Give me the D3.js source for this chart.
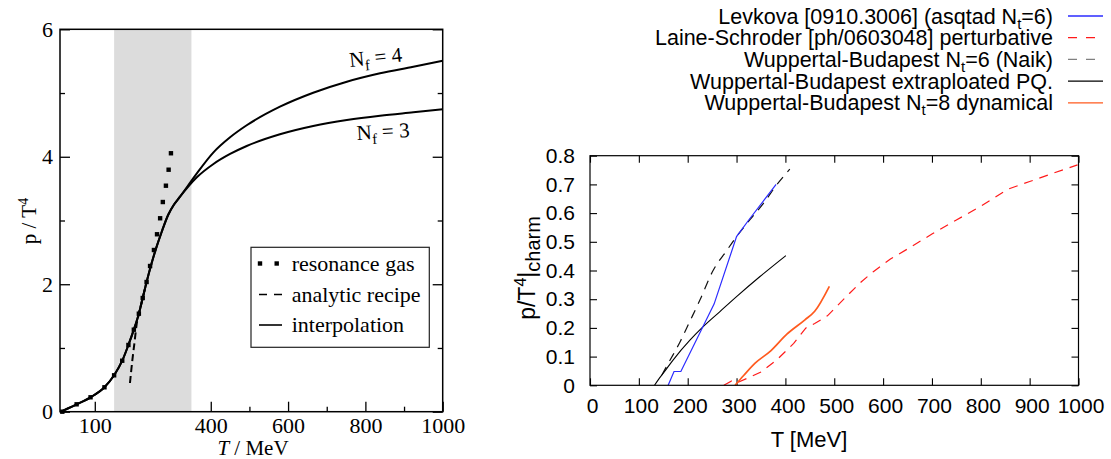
<!DOCTYPE html>
<html><head><meta charset="utf-8">
<script src="https://cdn.jsdelivr.net/npm/d3@7"></script>
<style>body{margin:0;background:#fff} svg{display:block}</style>
</head><body><svg id="c" width="1111" height="459"></svg>
<script>
// ===== Left panel data =====
const shadeBand = [150, 350];
const leftXTicksMajor = [100, 400, 600, 800, 1000];
const leftXTicksMinor = [500, 700, 900];
const leftYTicksMajor = [0, 2, 4, 6];
const leftYTicksMinor = [1, 3, 5];
const resonanceT = [16, 53, 89, 125, 150, 171, 187, 201, 214, 224, 234, 243, 253, 261, 269, 276, 284, 291, 297];
const resonanceP = [0, 0.116, 0.226, 0.383, 0.571, 0.80, 1.047, 1.287, 1.538, 1.784, 2.035, 2.286, 2.537, 2.784, 3.035, 3.290, 3.546, 3.797, 4.055];
const commonT = [12, 30, 53, 89, 125, 150, 171, 187, 201, 214, 224, 234, 247, 260, 273, 290, 305, 320];
const commonP = [0, 0.05, 0.116, 0.226, 0.383, 0.571, 0.80, 1.047, 1.287, 1.538, 1.784, 2.035, 2.33, 2.59, 2.82, 3.09, 3.25, 3.37];
const splitT = [364, 407, 450, 493, 579, 665, 752, 838, 924, 1000];
const nf4P = [3.74, 4.07, 4.306, 4.494, 4.786, 5.005, 5.178, 5.31, 5.413, 5.508];
const nf3P = [3.678, 3.887, 4.044, 4.169, 4.353, 4.483, 4.577, 4.645, 4.698, 4.745];
const recipeT = [191, 197, 203, 208, 214, 224, 234];
const recipeP = [0.45, 0.8, 1.1, 1.36, 1.538, 1.784, 2.035];
const leftLegend = ["resonance gas", "analytic recipe", "interpolation"];

// ===== Right panel data =====
const rightXTicks = [0, 100, 200, 300, 400, 500, 600, 700, 800, 900, 1000];
const rightYTicks = [0, 0.1, 0.2, 0.3, 0.4, 0.5, 0.6, 0.7, 0.8];
const levkovaT = [160, 172, 186, 254, 300, 325, 381];
const levkovaP = [0, 0.048, 0.048, 0.283, 0.518, 0.576, 0.70];
const laineT = [274, 290, 300, 350, 382, 417, 442, 460, 486, 531, 555, 580, 615, 655, 700, 750, 800, 855, 900, 950, 998];
const laineP = [0, 0.015, 0.008, 0.046, 0.088, 0.146, 0.2, 0.215, 0.242, 0.32, 0.36, 0.396, 0.44, 0.48, 0.527, 0.576, 0.624, 0.683, 0.71, 0.74, 0.768];
const naikT = [147, 164, 184, 205, 225, 252, 280, 300, 327, 355, 382, 409];
const naikP = [0.036, 0.088, 0.15, 0.225, 0.297, 0.4, 0.47, 0.518, 0.576, 0.634, 0.698, 0.753];
const pqT = [132, 140, 150, 170, 205, 229, 266, 300, 348, 401];
const pqP = [0, 0.02, 0.042, 0.088, 0.158, 0.2, 0.257, 0.309, 0.379, 0.452];
const nt8T = [297, 315, 338, 370, 403, 440, 460, 490];
const nt8P = [0, 0.035, 0.077, 0.12, 0.178, 0.228, 0.258, 0.345];
const rightLegend = ["Levkova [0910.3006] (asqtad N|t|=6)", "Laine-Schroder [ph/0603048] perturbative",
  "Wuppertal-Budapest N|t|=6 (Naik)", "Wuppertal-Budapest extraploated PQ.", "Wuppertal-Budapest N|t|=8 dynamical"];

const svg = d3.select("#c");
const zip = (a, b) => a.map((v, i) => [v, b[i]]);

// ================= LEFT PANEL =================
const serif = "'Liberation Serif', 'Times New Roman', serif";
const xL = d3.scaleLinear([10, 1000], [60, 442.7]);
const yL = d3.scaleLinear([0, 6], [411.7, 29.3]);
const L = svg.append("g");

L.append("rect").attr("x", xL(shadeBand[0])).attr("y", yL(6))
  .attr("width", xL(shadeBand[1]) - xL(shadeBand[0])).attr("height", yL(0) - yL(6)).attr("fill", "#dcdcdc");

function styleAxis(g, font, size) {
  g.select(".domain").remove();
  g.selectAll("line").attr("stroke", "#000").attr("stroke-width", 1.3);
  g.selectAll("text").attr("font-family", font).attr("font-size", size).attr("fill", "#000");
}
L.append("g").attr("transform", `translate(0,${yL(0)})`)
  .call(d3.axisBottom(xL).tickValues(leftXTicksMajor).tickSize(-10).tickPadding(6).tickFormat(d3.format("d")))
  .call(g => styleAxis(g, serif, 22));
L.append("g").attr("transform", `translate(0,${yL(0)})`)
  .call(d3.axisBottom(xL).tickValues(leftXTicksMinor).tickSize(-5).tickFormat(""))
  .call(g => styleAxis(g, serif, 22));
L.append("g").attr("transform", `translate(${xL.range()[0]},0)`)
  .call(d3.axisLeft(yL).tickValues(leftYTicksMajor).tickSize(-10).tickPadding(7).tickFormat(d3.format("d")))
  .call(g => styleAxis(g, serif, 22));
L.append("g").attr("transform", `translate(${xL.range()[0]},0)`)
  .call(d3.axisLeft(yL).tickValues(leftYTicksMinor).tickSize(-5).tickFormat(""))
  .call(g => styleAxis(g, serif, 22));
L.append("g").attr("transform", `translate(${xL.range()[1]},0)`)
  .call(d3.axisRight(yL).tickValues(leftYTicksMajor).tickSize(-10).tickFormat(""))
  .call(g => styleAxis(g, serif, 22));
L.append("g").attr("transform", `translate(${xL.range()[1]},0)`)
  .call(d3.axisRight(yL).tickValues(leftYTicksMinor).tickSize(-5).tickFormat(""))
  .call(g => styleAxis(g, serif, 22));

const lineL = d3.line().x(d => xL(d[0])).y(d => yL(d[1])).curve(d3.curveMonotoneX);
const common = zip(commonT, commonP);
L.append("path").attr("d", lineL(common.concat(zip(splitT, nf4P))))
  .attr("fill", "none").attr("stroke", "#000").attr("stroke-width", 2);
L.append("path").attr("d", lineL(common.concat(zip(splitT, nf3P))))
  .attr("fill", "none").attr("stroke", "#000").attr("stroke-width", 2);
L.append("path").attr("d", lineL(zip(recipeT, recipeP)))
  .attr("fill", "none").attr("stroke", "#000").attr("stroke-width", 2).attr("stroke-dasharray", "7,4");
L.selectAll("rect.rg").data(zip(resonanceT, resonanceP)).join("rect").attr("class", "rg")
  .attr("x", d => xL(d[0]) - 2.2).attr("y", d => yL(d[1]) - 2.2).attr("width", 4.4).attr("height", 4.4).attr("fill", "#000");

// frame
L.append("rect").attr("x", 60).attr("y", yL(6)).attr("width", xL(1000) - 60).attr("height", yL(0) - yL(6))
  .attr("fill", "none").attr("stroke", "#000").attr("stroke-width", 1.5);

// legend box
const lg = L.append("g");
lg.append("rect").attr("x", 251).attr("y", 247.3).attr("width", 178.3).attr("height", 100)
  .attr("fill", "#fff").attr("stroke", "#222").attr("stroke-width", 1.2);
const lRows = [263.5, 294.5, 325];
lg.selectAll("text").data(leftLegend).join("text").attr("x", 291.7).attr("y", (d, i) => lRows[i]).attr("dy", "0.33em")
  .attr("font-family", serif).attr("font-size", 22).text(d => d);
[260, 276.7].forEach(cx => lg.append("rect").attr("x", cx - 2.2).attr("y", lRows[0] - 2.2).attr("width", 4.4).attr("height", 4.4));
lg.append("line").attr("x1", 259).attr("x2", 282).attr("y1", lRows[1]).attr("y2", lRows[1])
  .attr("stroke", "#000").attr("stroke-width", 1.6).attr("stroke-dasharray", "8,7");
lg.append("line").attr("x1", 259).attr("x2", 282).attr("y1", lRows[2]).attr("y2", lRows[2])
  .attr("stroke", "#000").attr("stroke-width", 1.6);

// Nf labels
function nfLabel(x, y, rot, num) {
  const t = L.append("text").attr("transform", `translate(${x},${y}) rotate(${rot})`)
    .attr("font-family", serif).attr("font-size", 21);
  t.append("tspan").text("N");
  t.append("tspan").attr("dy", 5).attr("font-size", 15).text("f");
  t.append("tspan").attr("dy", -5).text(" = " + num);
}
nfLabel(350, 67, -6, 4);
nfLabel(357, 140, -3.5, 3);

// axis titles
const xt = L.append("text").attr("x", 253).attr("y", 455).attr("text-anchor", "middle")
  .attr("font-family", serif).attr("font-size", 21);
xt.append("tspan").attr("font-style", "italic").text("T");
xt.append("tspan").text(" / MeV");
const yt = L.append("text").attr("transform", "translate(36,221) rotate(-90)").attr("text-anchor", "middle")
  .attr("font-family", serif).attr("font-size", 21);
yt.append("tspan").text("p / T");
yt.append("tspan").attr("dy", -8).attr("font-size", 14).text("4");

// ================= RIGHT PANEL =================
const sans = "'Liberation Sans', Arial, Helvetica, sans-serif";
const xR = d3.scaleLinear([0, 1000], [590, 1078.5]);
const yR = d3.scaleLinear([0, 0.8], [385.3, 155.7]);
const R = svg.append("g");

R.append("g").attr("transform", `translate(0,${yR(0)})`)
  .call(d3.axisBottom(xR).tickValues(rightXTicks).tickSize(-7).tickPadding(13).tickFormat(d3.format("d")))
  .call(g => styleAxis(g, sans, 21)).call(g => g.selectAll("text").attr("dx", 2));
R.append("g").attr("transform", `translate(0,${yR(0.8)})`)
  .call(d3.axisTop(xR).tickValues(rightXTicks).tickSize(-7).tickFormat(""))
  .call(g => styleAxis(g, sans, 21));
R.append("g").attr("transform", `translate(${xR(0)},0)`)
  .call(d3.axisLeft(yR).tickValues(rightYTicks).tickSize(-7).tickPadding(15).tickFormat(d => d === 0 ? "0" : d3.format(".1f")(d)))
  .call(g => styleAxis(g, sans, 21));
R.append("g").attr("transform", `translate(${xR(1000)},0)`)
  .call(d3.axisRight(yR).tickValues(rightYTicks).tickSize(-7).tickFormat(""))
  .call(g => styleAxis(g, sans, 21));
R.selectAll("g line").attr("stroke-width", 1.1);

const lineR = d3.line().x(d => xR(d[0])).y(d => yR(d[1]));
const lineRs = d3.line().x(d => xR(d[0])).y(d => yR(d[1])).curve(d3.curveMonotoneX);
R.append("path").attr("d", lineR(zip(laineT, laineP))).attr("fill", "none").attr("stroke", "#ff1a1a")
  .attr("stroke-width", 1.2).attr("stroke-dasharray", "9,7");
R.append("path").attr("d", lineRs(zip(naikT, naikP))).attr("fill", "none").attr("stroke", "#111")
  .attr("stroke-width", 1.2).attr("stroke-dasharray", "9,7");
R.append("path").attr("d", lineRs(zip(pqT, pqP))).attr("fill", "none").attr("stroke", "#000").attr("stroke-width", 1.1);
R.append("path").attr("d", lineR(zip(levkovaT, levkovaP))).attr("fill", "none").attr("stroke", "#2b2bff").attr("stroke-width", 1.2);
R.append("path").attr("d", lineRs(zip(nt8T, nt8P))).attr("fill", "none").attr("stroke", "#ff5a1e").attr("stroke-width", 1.7);

R.append("rect").attr("x", xR(0)).attr("y", yR(0.8)).attr("width", xR(1000) - xR(0)).attr("height", yR(0) - yR(0.8))
  .attr("fill", "none").attr("stroke", "#000").attr("stroke-width", 1.2);

// axis titles
R.append("text").attr("x", 809).attr("y", 447).attr("text-anchor", "middle")
  .attr("font-family", sans).attr("font-size", 22).text("T [MeV]");
const ryt = R.append("text").attr("transform", "translate(535,268) rotate(-90)").attr("text-anchor", "middle")
  .attr("font-family", sans).attr("font-size", 23);
ryt.append("tspan").text("p/T");
ryt.append("tspan").attr("dy", -9).attr("font-size", 16).text("4");
ryt.append("tspan").attr("dy", 9).text("|");
ryt.append("tspan").attr("dy", 5).attr("font-size", 20).text("charm");

// legend
const legColors = ["#2b2bff", "#ff1a1a", "#808080", "#000", "#ff5a1e"];
const legDash = [null, "9,9", "9,9", null, null];
rightLegend.forEach((s, i) => {
  const y = 16 + i * 21.7;
  const t = R.append("text").attr("x", 1053).attr("y", y).attr("dy", "0.35em").attr("text-anchor", "end")
    .attr("font-family", sans).attr("font-size", 21.5);
  const parts = s.split("|");
  if (parts.length === 1) t.text(s);
  else {
    t.append("tspan").text(parts[0]);
    t.append("tspan").attr("dy", 5).attr("font-size", 15).text(parts[1]);
    t.append("tspan").attr("dy", -5).text(parts[2]);
  }
  R.append("line").attr("x1", 1068).attr("x2", 1103).attr("y1", y).attr("y2", y)
    .attr("stroke", legColors[i]).attr("stroke-width", 1.3).attr("stroke-dasharray", legDash[i]);
});
</script>
</body></html>
